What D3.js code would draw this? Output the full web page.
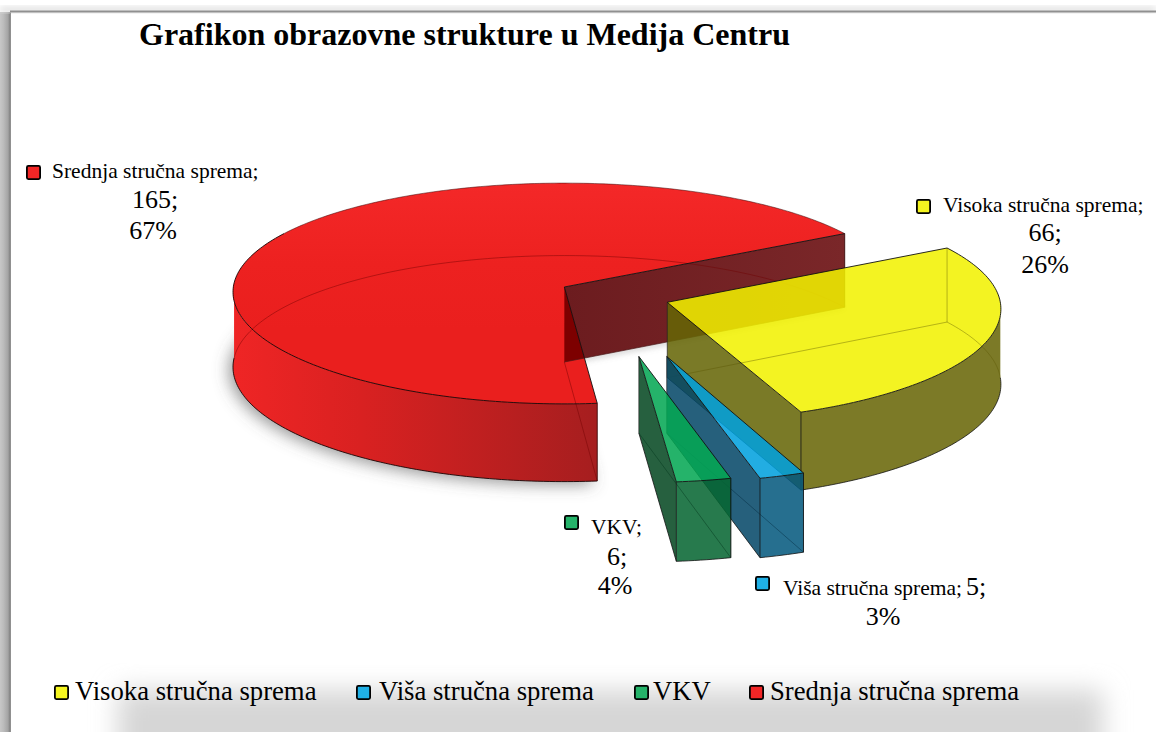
<!DOCTYPE html>
<html><head><meta charset="utf-8">
<script src="https://cdn.jsdelivr.net/npm/d3@7"></script>
<style>
html,body{margin:0;padding:0;background:#fff;overflow:hidden}
text{font-family:"Liberation Serif","Times New Roman",serif;fill:#000}
</style></head><body>
<svg id="c" width="1156" height="732"></svg>
<script>
const titleText = "Grafikon obrazovne strukture u Medija Centru";
const categories = ["Visoka stručna sprema","Viša stručna sprema","VKV","Srednja stručna sprema"];
const values = [66,5,6,165];
const percents = ["26%","3%","4%","67%"];
const keyColors = ["#f5f520","#1fb0e6","#25b36a","#f22626"];

const svg = d3.select("#c");
const defs = svg.append("defs");
const blur = (id,s)=>defs.append("filter").attr("id",id).attr("x","-30%").attr("y","-30%").attr("width","160%").attr("height","160%")
  .append("feGaussianBlur").attr("stdDeviation",s);
blur("b3",3); blur("b8",8); blur("b5",5); blur("b12",13);

function grad(id,stops,x1,x2,y1=0,y2=0){
  const g=defs.append("linearGradient").attr("id",id).attr("gradientUnits","userSpaceOnUse")
    .attr("x1",x1).attr("x2",x2).attr("y1",y1).attr("y2",y2);
  stops.forEach(s=>g.append("stop").attr("offset",s[0]).attr("stop-color",s[1]));
}
grad("redSide",[[0,"#ef2525"],[0.35,"#d92121"],[1,"#a61e1f"]],234,596);
grad("redTop",[[0,"#f42828"],[0.55,"#ed2120"],[1,"#ea1f1e"]],0,0,183,330);
grad("leftShade",[[0,"#c8c8c8"],[0.35,"#bcbcbc"],[0.8,"#a4a4a4"],[1,"#828282"]],0,10);

// page frame: shadows and the white panel
svg.append("rect").attr("x",118).attr("y",690).attr("width",985).attr("height",90).attr("fill","#d6d6d6").attr("filter","url(#b12)");
svg.append("rect").attr("x",0).attr("y",12).attr("width",10).attr("height",720).attr("fill","url(#leftShade)");
svg.append("rect").attr("x",0).attr("y",7).attr("width",1156).attr("height",5).attr("fill","#dcdcdc").attr("filter","url(#b3)");
svg.append("rect").attr("x",10).attr("y",10.5).attr("width",1146).attr("height",2).attr("fill","#909090");
svg.append("rect").attr("x",10).attr("y",12.5).attr("width",1).attr("height",720).attr("fill","#909090");

// title
svg.append("text").attr("x",139).attr("y",45).attr("font-size",32).attr("font-weight","bold").text(titleText);

// projection of the pie plane to the screen
const apex = {x:565,y:287}, depth = 75;
const sx = d3.scaleLinear().domain([-1,1]).range([-331,331]);
const sy = d3.scaleLinear().domain([-1,1]).range([-110,110]);
const kx = 0.045, ky = 0.0588, kz = 0.035;
function P(theta,r,z,off){
  const u = r*Math.sin(theta)+off[0], v = -r*Math.cos(theta)+off[1];
  return [apex.x + sx(u)/(1-kx*v), apex.y + sy(v)/(1-ky*v) + z*depth/(1-kz*v)];
}
const START = 60*Math.PI/180;
const pie = d3.pie().sort(null).value(d=>d).startAngle(START).endAngle(START+2*Math.PI);
const arcs = pie(values);
const line = d3.line();
const rad = d=>d*Math.PI/180;
// explosion of each slice, in pie-plane units
const explode = [[0.307,0.138],[0.299,0.609],[0.217,0.609],[-0.002,0]];

function arcPts(a0,a1,z,off){
  const n=Math.max(2,Math.ceil(Math.abs(a1-a0)/rad(1)));
  return d3.range(n+1).map(i=>P(a0+(a1-a0)*i/n,1,z,off));
}
// fill that gives the target colour on white at the chosen alpha
const ALPHA=0.865;
function onWhite(hex){
  const c=d3.rgb(hex);
  const f=t=>Math.max(0,Math.min(255,(t-255*(1-ALPHA))/ALPHA));
  return d3.rgb(f(c.r),f(c.g),f(c.b)).formatRgb();
}
const g = svg.append("g");
function face(pts,fill,opts={}){
  g.append("path").attr("d",line(pts)+"Z").attr("fill",fill)
   .attr("fill-opacity",opts.a??ALPHA).attr("stroke",opts.stroke||"none").attr("stroke-width",opts.sw||0.8)
   .attr("stroke-opacity",opts.so??1).attr("stroke-linejoin","round");
}
function thin(pts,color,w=0.8){ g.append("path").attr("d",line(pts)).attr("fill","none").attr("stroke",color).attr("stroke-width",w); }

// soft shadow beneath the red slice: a blurred wedge of its lower disc
const red=arcs[3], ro=explode[3];
const redSil=[P(0,0,1,ro),...arcPts(red.startAngle,rad(300),1,ro)];
g.append("path").attr("d",line(redSil)+"Z").attr("fill","#555").attr("fill-opacity",0.62)
  .attr("transform","translate(-4,3)").attr("filter","url(#b8)");
// faint shadow along the lower edge of the maroon wall
g.append("path").attr("d",line([P(0,0,1,ro),P(rad(60),1,1,ro)])).attr("fill","none").attr("stroke","#777").attr("stroke-opacity",0.45).attr("stroke-width",4).attr("filter","url(#b3)");

// --- red slice ---
const wallA=[P(0,0,0,ro),P(red.endAngle,1,0,ro),P(red.endAngle,1,1,ro),P(0,0,1,ro)];
const ang0=red.startAngle, ang1=red.endAngle;
const topPts=[P(0,0,0,ro),...arcPts(ang0,ang1,0,ro)];
grad("maroon",[[0,"#6c1c1f"],[1,"#7a2729"]],565,845);
face(wallA,"url(#maroon)",{a:1});
// outer side, front half
const sideR=[...arcPts(ang0,rad(272),0,ro),...arcPts(rad(272),ang0,1,ro)];
face(sideR,"url(#redSide)",{a:1});
face(topPts,"url(#redTop)",{a:1});
// where the top surface lies over the wall
defs.append("clipPath").attr("id","wallClip").append("path").attr("d",line(wallA)+"Z");
g.append("path").attr("d",line(topPts)+"Z").attr("fill","#7d0000").attr("clip-path","url(#wallClip)");
// see-through lines of the red slice
thin(arcPts(rad(272),ang1,1,ro),"rgba(110,0,0,0.55)");
thin([P(0,0,1,ro),P(ang0,1,1,ro)],"rgba(110,0,0,0.55)");
// edges
thin(arcPts(ang0,rad(300),0,ro),"#1a0505",0.9);
thin(arcPts(rad(300),ang1,0,ro),"rgba(60,10,10,0.75)",0.7);
thin(arcPts(ang0,rad(272),1,ro),"#1a0505",0.9);
thin([P(0,0,0,ro),P(ang0,1,0,ro)],"#111",0.9);
thin([P(0,0,0,ro),P(ang1,1,0,ro)],"#111",0.9);
thin([P(ang0,1,0,ro),P(ang0,1,1,ro)],"#3a0a0a",0.9);
thin([P(ang1,1,0,ro),P(ang1,1,1,ro)],"#3a0a0a",0.9);
thin([P(0,0,1,ro),P(ang1,1,1,ro)],"#4a1a1a",0.7);

// --- exploded slices, back to front ---
const styles=[
 {top:"#f3f320",wall:"#7b7a28",side:"#7c7a28",line:"rgba(90,85,0,0.5)"},
 {top:"#21ade2",wall:"#27617c",side:"#276f8f",line:"rgba(0,40,60,0.55)"},
 {top:"#25b36a",wall:"#27603f",side:"#287a4e",line:"rgba(0,50,25,0.55)"}
];
[0,1,2].forEach(i=>{
  const d=arcs[i], o=explode[i], st=styles[i];
  const a0=d.startAngle, a1=d.endAngle;
  face([P(0,0,0,o),P(a1,1,0,o),P(a1,1,1,o),P(0,0,1,o)],onWhite(st.wall));
  const sideA=i===0?rad(90):a0;
  face([...arcPts(sideA,a1,0,o),...arcPts(a1,sideA,1,o)],onWhite(st.side));
  face([P(0,0,0,o),...arcPts(a0,a1,0,o)],onWhite(st.top));
  // see-through lines
  thin([P(a0,1,0,o),P(a0,1,1,o)],st.line);
  thin([P(0,0,1,o),P(a0,1,1,o)],st.line);
  thin(arcPts(a0,sideA,1,o),st.line);
  // edges
  thin([P(0,0,0,o),P(a0,1,0,o)],"#111",0.9);
  thin([P(0,0,0,o),P(a1,1,0,o)],"#111",0.9);
  thin(arcPts(a0,a1,0,o),"#111",0.9);
  thin(arcPts(sideA,a1,1,o),"#111",0.8);
  thin([P(0,0,0,o),P(0,0,1,o)],"#222",0.7);
  thin([P(a1,1,0,o),P(a1,1,1,o)],"#111",0.8);
  thin([P(0,0,1,o),P(a1,1,1,o)],"#111",0.8);
  if(i!==0) thin([P(a0,1,0,o),P(a0,1,1,o)],"#111",0.8);
});

// data labels
function key(x,y,c,s=15){
  svg.append("rect").attr("x",x+0.9).attr("y",y+0.9).attr("width",s-1.8).attr("height",s-1.8).attr("rx",1.5)
    .attr("fill",c).attr("stroke","#000").attr("stroke-width",1.8);
}
function label(x,y,t,size,anchor="start"){
  return svg.append("text").attr("x",x).attr("y",y).attr("font-size",size).attr("text-anchor",anchor).text(t);
}
const NAME=21.5, NUM=26;
// Srednja
key(26,165,keyColors[3]);
label(52,178,categories[3]+";",NAME);
label(155,208,values[3]+";",NUM,"middle");
label(153,239,percents[3],NUM,"middle");
// Visoka
key(916,199,keyColors[0]);
label(943,212,categories[0]+";",NAME);
label(1045,241,values[0]+";",NUM,"middle");
label(1045,273,percents[0],NUM,"middle");
// VKV
key(564,515,keyColors[2]);
label(591,534,categories[2]+";",NAME);
label(617,565,values[2]+";",NUM,"middle");
label(615,594,percents[2],NUM,"middle");
// Viša
key(755,576,keyColors[1]);
label(783,595,categories[1]+";",NAME);
label(966,595,values[1]+";",NUM);
label(883,625,percents[1],NUM,"middle");

// legend
const legendKeyX=[54,356,634,749], legendTextX=[75,379,653,770];
categories.forEach((c,i)=>{
  key(legendKeyX[i],685,keyColors[i]);
  label(legendTextX[i],700,c,26.7);
});
</script></body></html>
